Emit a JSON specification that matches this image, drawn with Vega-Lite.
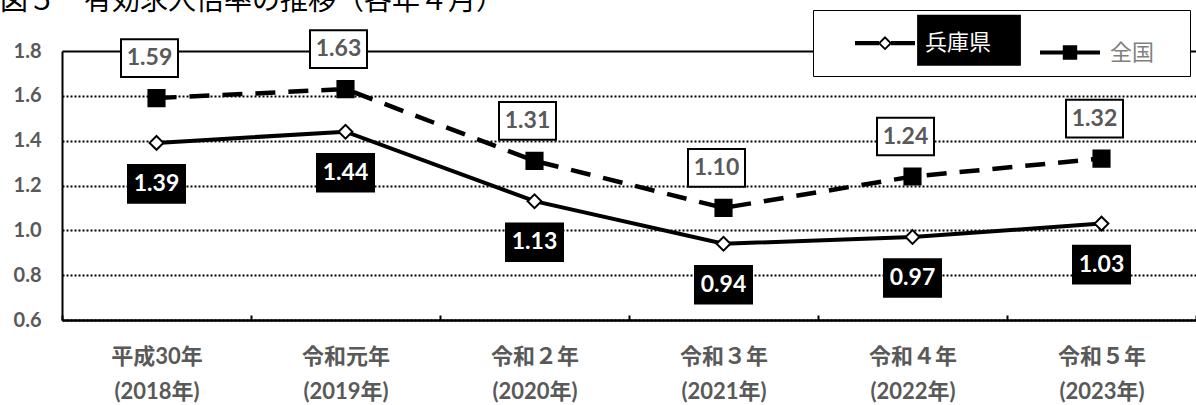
{
  "$schema": "https://vega.github.io/schema/vega-lite/v6.json",
  "width": 1134,
  "height": 269,
  "autosize": {"type": "none"},
  "padding": {"left": 62, "top": 51, "right": 0, "bottom": 85},
  "background": "white",
  "title": {
    "text": "図５　有効求人倍率の推移（各年４月）",
    "anchor": "start",
    "frame": "group",
    "font": "Noto Sans CJK JP",
    "fontSize": 28,
    "fontWeight": "normal",
    "color": "black",
    "baseline": "alphabetic",
    "dx": -62,
    "dy": 28,
    "offset": 0
  },
  "config": {"view": {"stroke": null}},
  "data": {
    "values": [
      {"year": "平成30年\n(2018年)", "series": "兵庫県", "value": 1.39},
      {"year": "令和元年\n(2019年)", "series": "兵庫県", "value": 1.44},
      {"year": "令和２年\n(2020年)", "series": "兵庫県", "value": 1.13},
      {"year": "令和３年\n(2021年)", "series": "兵庫県", "value": 0.94},
      {"year": "令和４年\n(2022年)", "series": "兵庫県", "value": 0.97},
      {"year": "令和５年\n(2023年)", "series": "兵庫県", "value": 1.03},
      {"year": "平成30年\n(2018年)", "series": "全国", "value": 1.59},
      {"year": "令和元年\n(2019年)", "series": "全国", "value": 1.63},
      {"year": "令和２年\n(2020年)", "series": "全国", "value": 1.31},
      {"year": "令和３年\n(2021年)", "series": "全国", "value": 1.10},
      {"year": "令和４年\n(2022年)", "series": "全国", "value": 1.24},
      {"year": "令和５年\n(2023年)", "series": "全国", "value": 1.32}
    ]
  },
  "encoding": {
    "x": {
      "field": "year",
      "type": "nominal",
      "sort": null,
      "scale": {"type": "band", "paddingInner": 0, "paddingOuter": 0},
      "axis": {
        "title": null,
        "labelAngle": 0,
        "labelExpr": "split(datum.label, '\\n')",
        "labelFont": "Lato, Noto Sans CJK JP",
        "labelFontSize": 22,
        "labelFontWeight": "bold",
        "labelColor": "#595959",
        "labelLineHeight": 35,
        "labelPadding": 31,
        "labelBaseline": "top",
        "tickBand": "extent",
        "tickSize": -5,
        "tickColor": "black",
        "tickWidth": 2,
        "domainColor": "black",
        "domainWidth": 2.5,
        "grid": false
      }
    },
    "y": {
      "field": "value",
      "type": "quantitative",
      "scale": {"domain": [0.6, 1.8], "nice": false, "zero": false},
      "axis": {
        "title": null,
        "values": [0.6, 0.8, 1.0, 1.2, 1.4, 1.6, 1.8],
        "format": ".1f",
        "labelFont": "Lato",
        "labelFontSize": 20,
        "labelFontWeight": "bold",
        "labelColor": "#595959",
        "labelPadding": 21,
        "ticks": false,
        "domainColor": "black",
        "domainWidth": 2,
        "grid": true,
        "gridColor": "black",
        "gridWidth": 2,
        "gridDash": {"condition": {"test": "datum.value >= 1.79", "value": []}, "value": [2, 2]}
      }
    }
  },
  "layer": [
    {
      "transform": [{"filter": "datum.series === '兵庫県'"}],
      "mark": {"type": "line", "color": "black", "strokeWidth": 4}
    },
    {
      "transform": [{"filter": "datum.series === '全国'"}],
      "mark": {"type": "line", "color": "black", "strokeWidth": 4.5, "strokeDash": [20, 13]}
    },
    {
      "transform": [{"filter": "datum.series === '兵庫県'"}],
      "mark": {"type": "point", "shape": "diamond", "size": 190, "filled": true, "fill": "white", "opacity": 1, "stroke": "black", "strokeWidth": 2}
    },
    {
      "transform": [{"filter": "datum.series === '全国'"}],
      "mark": {"type": "point", "shape": "square", "size": 260, "filled": true, "fill": "black", "opacity": 1, "stroke": "black", "strokeWidth": 2}
    },
    {
      "mark": {"type": "point", "filled": true, "color": "black", "opacity": 0},
      "encoding": {
        "shape": {
          "field": "series",
          "type": "nominal",
          "scale": {
            "domain": ["兵庫県", "全国"],
            "range": [
              "M-1,-0.07H-0.2V0.07H-1ZM0.2,-0.07H1V0.07H0.2ZM-0.24,0L0,-0.24L0.24,0L0,0.24ZM-0.15,0L0,0.15L0.15,0L0,-0.15ZM1.07,-0.95H4.53V0.75H1.07ZM0,0.99",
              "M-1,-0.07H1V0.07H-1ZM-0.24,-0.24H0.24V0.24H-0.24ZM3.87,0"
            ]
          },
          "legend": {
            "title": " ",
            "titleOrient": "left",
            "titlePadding": 39,
            "titleFontSize": 10,
            "orient": "none",
            "legendX": 751,
            "legendY": -41,
            "direction": "horizontal",
            "columns": 2,
            "symbolSize": 3600,
            "symbolStrokeWidth": 0,
            "symbolFillColor": "black",
            "symbolOpacity": 1,
            "labelOffset": 10,
            "columnPadding": 19,
            "padding": 3,
            "strokeColor": "black",
            "fillColor": "white",
            "labelFont": "Noto Sans CJK JP",
            "labelFontSize": 22,
            "labelFontWeight": "normal",
            "labelColor": {"expr": "datum.value === '兵庫県' ? 'white' : '#808080'"},
            "labelLimit": 300
          }
        }
      }
    },
    {
      "transform": [{"filter": "datum.series === '兵庫県'"}],
      "mark": {"type": "point", "shape": "M-1,-0.66H1V0.66H-1Z", "size": 3249, "filled": true, "fill": "black", "stroke": "black", "opacity": 1, "yOffset": 41}
    },
    {
      "transform": [{"filter": "datum.series === '兵庫県'"}],
      "mark": {"type": "text", "font": "Lato", "fontSize": 23, "fontWeight": "bold", "color": "white", "baseline": "middle", "dy": 41},
      "encoding": {"text": {"field": "value", "type": "quantitative", "format": ".2f"}}
    },
    {
      "transform": [{"filter": "datum.series === '全国'"}],
      "mark": {"type": "point", "shape": "M-1,-0.66H1V0.66H-1Z", "size": 3249, "filled": true, "fill": "white", "stroke": "black", "strokeWidth": 2, "opacity": 1, "yOffset": -40, "xOffset": -7}
    },
    {
      "transform": [{"filter": "datum.series === '全国'"}],
      "mark": {"type": "text", "font": "Lato", "fontSize": 23, "fontWeight": "bold", "color": "#595959", "baseline": "middle", "dy": -40, "dx": -7},
      "encoding": {"text": {"field": "value", "type": "quantitative", "format": ".2f"}}
    }
  ]
}
